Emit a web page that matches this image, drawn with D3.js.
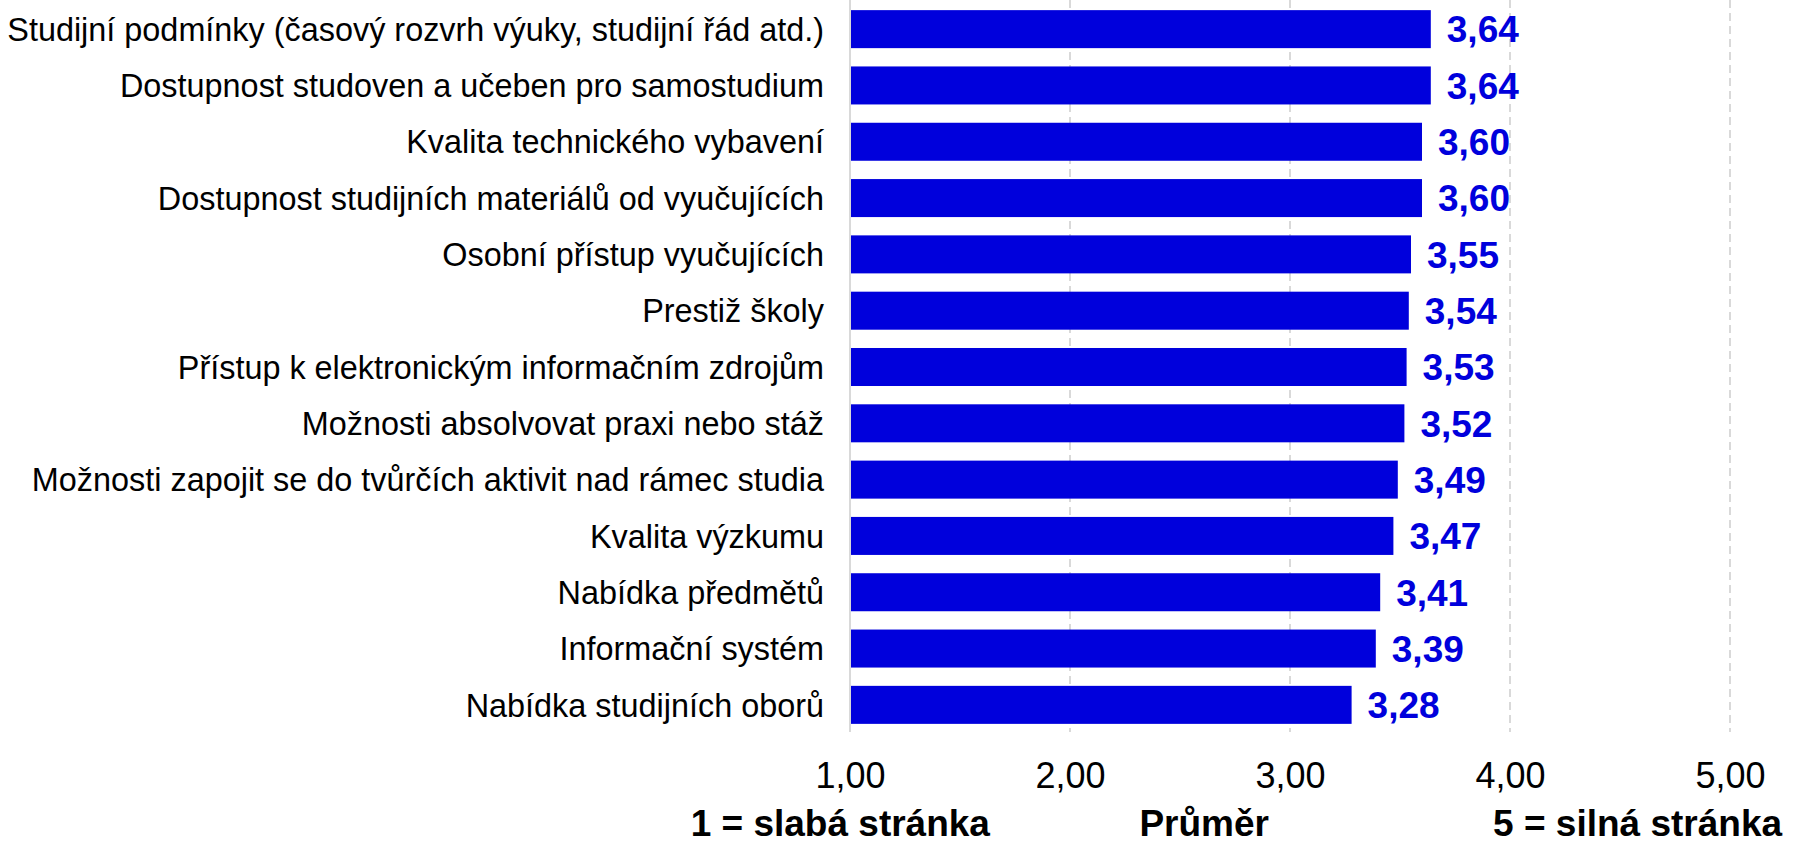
<!DOCTYPE html>
<html>
<head>
<meta charset="utf-8">
<script src="https://cdn.jsdelivr.net/npm/d3@7.9.0/dist/d3.min.js"></script>
<style>
  html, body { margin: 0; padding: 0; background: #fff; }
  svg { display: block; font-family: Arial, "Liberation Sans", sans-serif; }
</style>
</head>
<body>
<div id="chart"></div>
<script>
// categories and their average scores (1 = weak, 5 = strong)
const categories = [
  "Studijní podmínky (časový rozvrh výuky, studijní řád atd.)",
  "Dostupnost studoven a učeben pro samostudium",
  "Kvalita technického vybavení",
  "Dostupnost studijních materiálů od vyučujících",
  "Osobní přístup vyučujících",
  "Prestiž školy",
  "Přístup k elektronickým informačním zdrojům",
  "Možnosti absolvovat praxi nebo stáž",
  "Možnosti zapojit se do tvůrčích aktivit nad rámec studia",
  "Kvalita výzkumu",
  "Nabídka předmětů",
  "Informační systém",
  "Nabídka studijních oborů"
];
const values = [3.64, 3.64, 3.60, 3.60, 3.55, 3.54, 3.53, 3.52, 3.49, 3.47, 3.41, 3.39, 3.28];
const tickValues = [1, 2, 3, 4, 5];
const bottomLabels = [
  { text: "1 = slabá stránka", at: 0.956 },
  { text: "Průměr", at: 2.61 },
  { text: "5 = silná stránka", at: 4.58 }
];

const width = 1812;
const height = 845;
const margin = { top: 0, right: 82, left: 850, bottom: 111 };
const barColor = "#0000dc";

const locale = d3.formatLocale({ decimal: ",", thousands: " ", grouping: [3], currency: ["", " Kč"] });
const fmt = locale.format(".2f");

const data = categories.map((c, i) => ({ category: c, value: values[i] }));

const x = d3.scaleLinear()
  .domain([1, 5])
  .range([margin.left, width - margin.right]);

const y = d3.scaleBand()
  .domain(categories)
  .range([margin.top, height - margin.bottom])
  .paddingInner(0.325)
  .paddingOuter(0.18);

const svg = d3.select("#chart")
  .append("svg")
  .attr("width", width)
  .attr("height", height);

// gridlines (dashed), the first one is the solid axis line
const gridBottom = height - margin.bottom - 2;
svg.append("g")
  .attr("class", "grid")
  .selectAll("line")
  .data(tickValues)
  .join("line")
  .attr("x1", d => x(d))
  .attr("x2", d => x(d))
  .attr("y1", 0)
  .attr("y2", gridBottom)
  .attr("stroke", "#d9d9d9")
  .attr("stroke-width", 2)
  .attr("stroke-dasharray", d => d === 1 ? null : "8,5");

// bars
svg.append("g")
  .attr("class", "bars")
  .selectAll("rect")
  .data(data)
  .join("rect")
  .attr("x", x(1) + 1)
  .attr("y", d => y(d.category))
  .attr("width", d => x(d.value) - x(1) - 1)
  .attr("height", y.bandwidth())
  .attr("fill", barColor);

// value labels
svg.append("g")
  .attr("class", "values")
  .selectAll("text")
  .data(data)
  .join("text")
  .attr("x", d => x(d.value) + 16)
  .attr("y", d => y(d.category) + y.bandwidth() / 2)
  .attr("dy", "0.36em")
  .attr("fill", barColor)
  .attr("font-weight", "bold")
  .attr("font-size", 37)
  .text(d => fmt(d.value));

// category labels
svg.append("g")
  .attr("class", "y-labels")
  .selectAll("text")
  .data(data)
  .join("text")
  .attr("x", x(1) - 26)
  .attr("y", d => y(d.category) + y.bandwidth() / 2)
  .attr("dy", "0.36em")
  .attr("text-anchor", "end")
  .attr("font-size", 32.4)
  .attr("fill", "#000")
  .text(d => d.category);

// x axis tick labels
const xAxis = d3.axisBottom(x)
  .tickValues(tickValues)
  .tickFormat(fmt)
  .tickSize(0)
  .tickPadding(0);

const axisG = svg.append("g")
  .attr("class", "x-axis")
  .attr("transform", `translate(0, 762)`)
  .call(xAxis);
axisG.select(".domain").remove();
axisG.selectAll("text")
  .attr("font-size", 36)
  .attr("font-family", null)
  .attr("fill", "#000")
  .attr("dy", "0.72em");

// bottom legend labels
svg.append("g")
  .attr("class", "bottom-labels")
  .selectAll("text")
  .data(bottomLabels)
  .join("text")
  .attr("x", d => x(d.at))
  .attr("y", 836)
  .attr("text-anchor", "middle")
  .attr("font-weight", "bold")
  .attr("font-size", 37)
  .attr("fill", "#000")
  .text(d => d.text);
</script>
</body>
</html>
